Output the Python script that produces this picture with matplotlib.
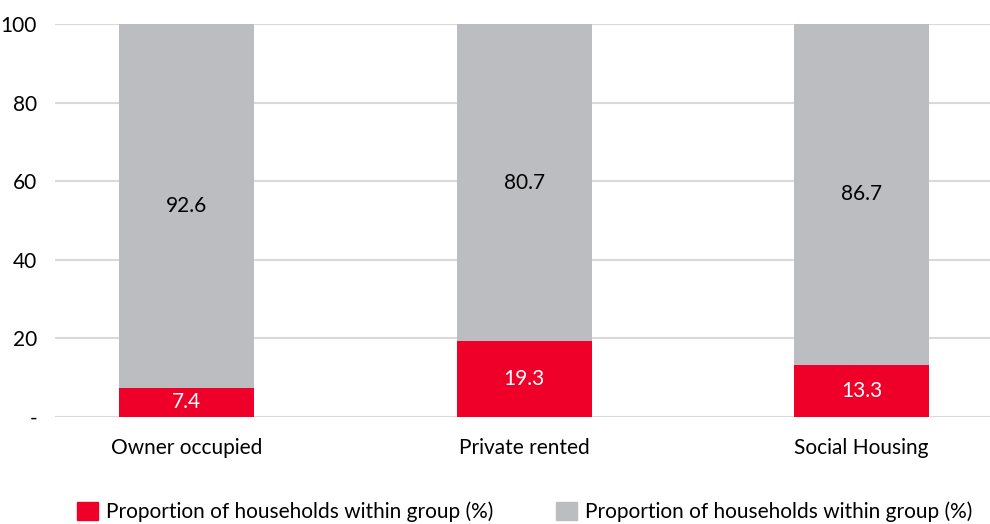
import matplotlib
matplotlib.use("Agg")
import matplotlib.pyplot as plt
from matplotlib.patches import Patch

plt.rcParams['font.family'] = ['Lato', 'DejaVu Sans']

categories = ["Owner occupied", "Private rented", "Social Housing"]
affected = [7.4, 19.3, 13.3]
not_affected = [92.6, 80.7, 86.7]
yticks = [0, 20, 40, 60, 80, 100]
ytick_labels = ["-", "20", "40", "60", "80", "100"]
legend_labels = ["Proportion of households within group (%)",
                 "Proportion of households within group (%)"]

RED = "#EE0028"
GREY = "#BCBDC1"
FS = 15

fig = plt.figure(figsize=(9.9, 5.24), dpi=100)
ax = fig.add_axes([55 / 990, 1 - 417 / 524, 1 - 55 / 990, (417 - 24) / 524])

x = range(len(categories))
ax.bar(x, affected, width=0.4, color=RED, zorder=3)
ax.bar(x, not_affected, width=0.4, bottom=affected, color=GREY, zorder=3)

for i in x:
    ax.text(i, affected[i] / 2, f"{affected[i]:.1f}", ha="center", va="center",
            color="white", fontsize=FS, zorder=4)
    ax.text(i, affected[i] + not_affected[i] / 2, f"{not_affected[i]:.1f}",
            ha="center", va="center", color="black", fontsize=FS, zorder=4)

ax.set_xlim(-0.39, 2.38)
ax.set_ylim(0, 100)
ax.set_yticks(yticks)
ax.set_yticklabels(ytick_labels, fontsize=FS)
ax.set_xticks(list(x))
ax.set_xticklabels(categories, fontsize=FS)
ax.tick_params(length=0)
ax.tick_params(axis="y", pad=13)
ax.tick_params(axis="x", pad=15)
ax.grid(axis="y", color="#D9D9D9", linewidth=1.5, zorder=0)
ax.set_axisbelow(True)
for s in ax.spines.values():
    s.set_visible(False)

handles = [Patch(color=RED), Patch(color=GREY)]
fig.legend(handles, legend_labels, loc="center", bbox_to_anchor=(0.53, 0.023),
           ncol=2, frameon=False, fontsize=FS, handlelength=1.0,
           handleheight=1.0, handletextpad=0.4, columnspacing=3.0)

fig.savefig("out.png", dpi=100)
